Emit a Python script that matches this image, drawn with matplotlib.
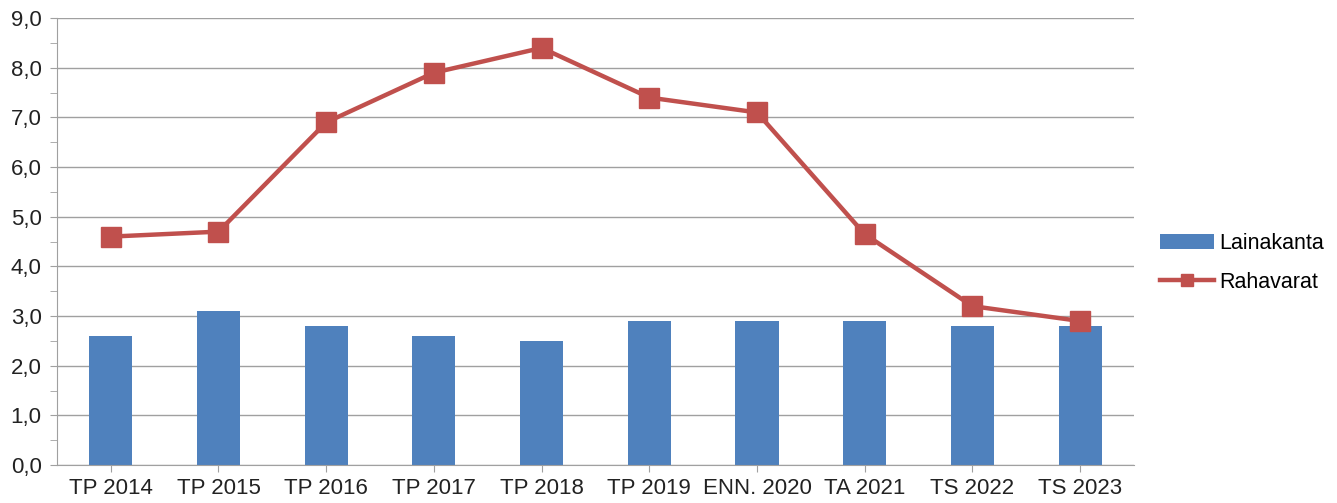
import matplotlib.pyplot as plt
import numpy as np
from matplotlib.ticker import MultipleLocator, FuncFormatter

categories = ["TP 2014", "TP 2015", "TP 2016", "TP 2017", "TP 2018",
              "TP 2019", "ENN. 2020", "TA 2021", "TS 2022", "TS 2023"]
lainakanta = [2.6, 3.1, 2.8, 2.6, 2.5, 2.9, 2.9, 2.9, 2.8, 2.8]
rahavarat = [4.6, 4.7, 6.9, 7.9, 8.4, 7.4, 7.1, 4.65, 3.2, 2.9]

plt.rcParams['font.family'] = ['Liberation Sans', 'DejaVu Sans']

fig = plt.figure(figsize=(13.37, 5.03), dpi=100)
ax = fig.add_axes([0.0426, 0.0755, 0.8055, 0.8885])

x = np.arange(len(categories))
bars = ax.bar(x, lainakanta, width=0.4, color='#4F81BD', label='Lainakanta', zorder=2)
line, = ax.plot(x, rahavarat, color='#C0504D', lw=3.2, marker='s', markersize=15,
                label='Rahavarat', zorder=3)

ax.set_xlim(-0.5, len(categories) - 0.5)
ax.set_ylim(0, 9)
ax.yaxis.set_major_locator(MultipleLocator(1))
ax.yaxis.set_minor_locator(MultipleLocator(0.5))
ax.yaxis.set_major_formatter(FuncFormatter(lambda v, p: f"{v:.1f}".replace('.', ',')))
ax.grid(axis='y', color='#A0A0A0', lw=1, zorder=0)
ax.set_xticks(x)
ax.set_xticklabels(categories)

for s in ['top', 'right']:
    ax.spines[s].set_visible(False)
for s in ['left', 'bottom']:
    ax.spines[s].set_color('#A0A0A0')
ax.tick_params(axis='both', which='both', color='#A0A0A0', labelsize=16, length=5,
               labelcolor='#222222')
ax.tick_params(axis='x', pad=4)
ax.tick_params(axis='y', pad=6)

ax.legend([bars, line], ['Lainakanta', 'Rahavarat'], loc='center left',
          bbox_to_anchor=(1.024, 0.452), frameon=False, fontsize=15.5,
          borderpad=0, borderaxespad=0,
          handlelength=2.5, handletextpad=0.25, labelspacing=0.8, markerscale=0.55)

fig.savefig('out.png', dpi=100)
